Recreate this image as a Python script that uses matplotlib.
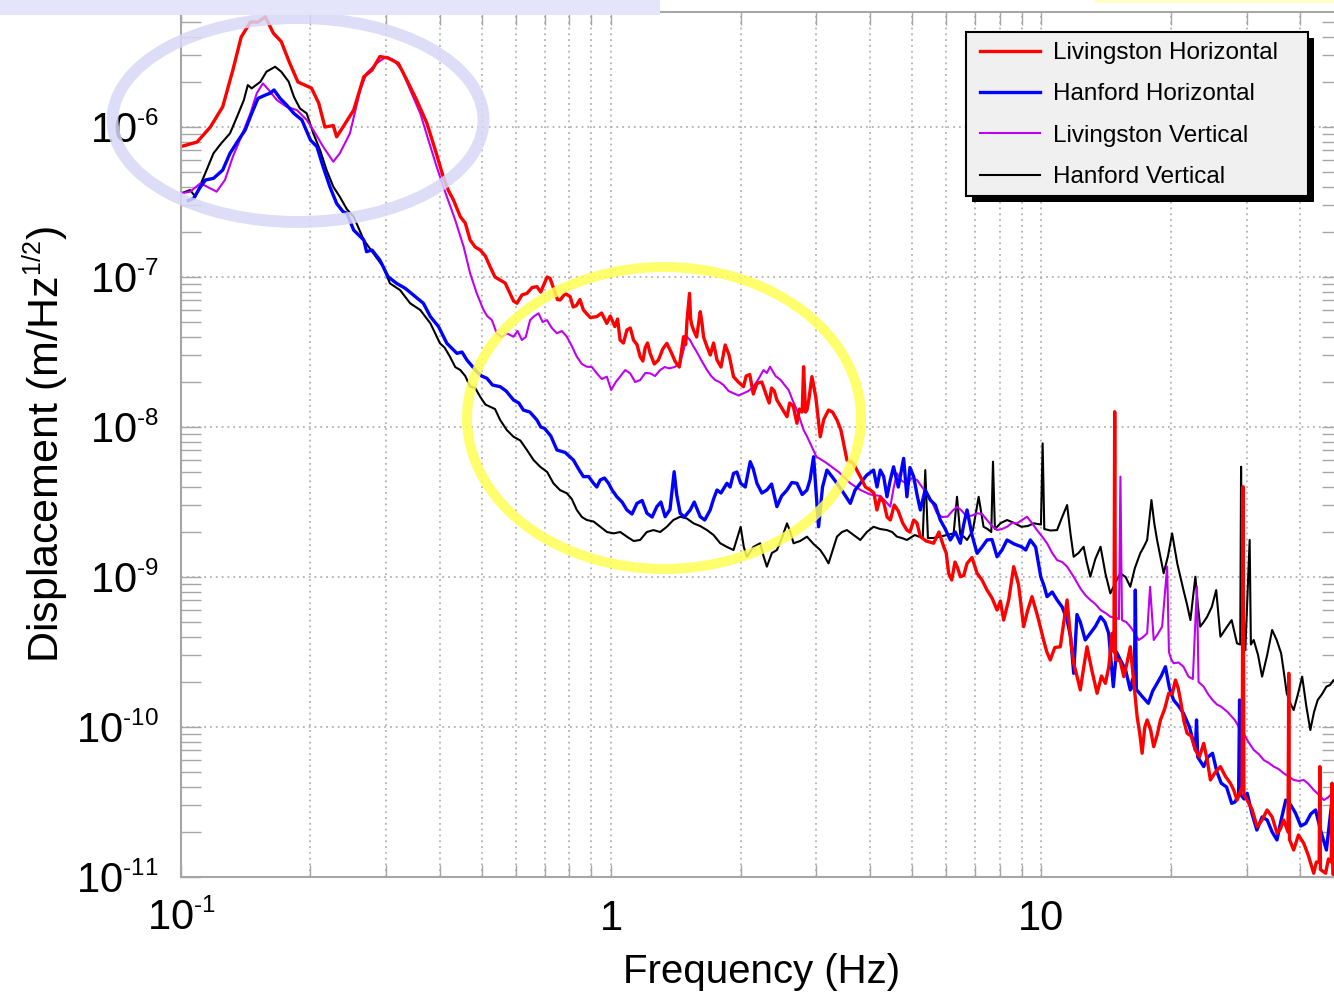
"""
Ground displacement spectra at the LIGO sites (Livingston / Hanford),
horizontal and vertical, with highlighted microseism and anthropogenic bands.
"""

import numpy as np
import matplotlib
matplotlib.use("Agg")
import matplotlib.pyplot as plt
import matplotlib._mathtext as mathtext_internals
from matplotlib.patches import Ellipse, Rectangle
from matplotlib.ticker import FixedLocator, NullFormatter, FuncFormatter

plt.rcParams["font.family"] = ["Liberation Sans", "DejaVu Sans"]
plt.rcParams["mathtext.fontset"] = "custom"
plt.rcParams["mathtext.rm"] = "Liberation Sans"
plt.rcParams["mathtext.it"] = "Liberation Sans:italic"
plt.rcParams["mathtext.bf"] = "Liberation Sans:bold"
# the original exponents are set noticeably smaller than mathtext's default
mathtext_internals.SHRINK_FACTOR = 0.58

# ── Data (frequency in Hz, displacement as log10 of m/Hz^1/2) ─────────
# main trace readings
lh_f = [0.100, 0.109, 0.117, 0.125, 0.132, 0.138, 0.145, 0.151, 0.157, 0.164,
        0.171, 0.179, 0.187, 0.201, 0.209, 0.216, 0.226, 0.230, 0.238, 0.252,
        0.266, 0.278, 0.290, 0.303, 0.320, 0.335, 0.353, 0.373, 0.390, 0.407,
        0.418, 0.430, 0.446, 0.470, 0.496, 0.523, 0.552, 0.582, 0.604, 0.637,
        0.672, 0.700, 0.721, 0.740, 0.761, 0.803, 0.830, 0.862, 0.926, 0.977,
        1.020, 1.049, 1.088, 1.127, 1.168, 1.200, 1.232, 1.288, 1.347, 1.409,
        1.473, 1.500, 1.521, 1.540, 1.554, 1.611, 1.640, 1.670, 1.762, 1.841,
        1.925, 2.031, 2.100, 2.182, 2.301, 2.360, 2.428, 2.563, 2.650, 2.703,
        2.780, 2.801, 2.830, 2.852, 2.929, 3.062, 3.201, 3.349, 3.533, 3.795,
        4.004, 4.148, 4.300, 4.456, 4.650, 4.870, 5.050, 5.233, 5.619, 5.931,
        6.090, 6.300, 6.482, 6.720, 7.090, 7.478, 7.889, 8.175, 8.625, 9.097,
        9.513, 10.12, 10.49, 11.07, 11.48, 11.89, 12.32, 12.77, 13.48, 14.09,
        14.60, 14.75, 14.81, 14.87, 15.55, 16.10, 16.70, 17.15, 17.62, 18.25,
        18.92, 19.78, 20.50, 21.06, 21.82, 22.81, 23.85, 24.72, 26.08, 27.52,
        28.52, 29.30, 29.44, 29.58, 30.08, 31.74, 33.48, 35.33, 36.60, 37.45,
        37.60, 37.75, 38.60, 40.74, 42.97, 44.25, 44.40, 44.55, 45.80, 47.20,
        47.40, 47.60, 48.50]
lh_v = [-6.13, -6.10, -6.00, -5.865, -5.62, -5.40, -5.30, -5.30, -5.265, -5.375,
        -5.43, -5.575, -5.70, -5.74, -5.84, -6.00, -5.99, -6.065, -6.00, -5.887,
        -5.665, -5.62, -5.53, -5.54, -5.575, -5.687, -5.82, -5.975, -6.153, -6.331,
        -6.42, -6.487, -6.598, -6.753, -6.82, -6.931, -7.02, -7.109, -7.175, -7.109,
        -7.064, -7.04, -7.009, -7.10, -7.153, -7.131, -7.19, -7.22, -7.264, -7.309,
        -7.33, -7.42, -7.353, -7.42, -7.531, -7.47, -7.509, -7.553, -7.442, -7.564,
        -7.398, -7.30, -7.109, -7.32, -7.353, -7.231, -7.40, -7.464, -7.553, -7.453,
        -7.664, -7.731, -7.65, -7.709, -7.798, -7.74, -7.82, -7.931, -7.86, -7.975,
        -7.90, -7.598, -7.90, -7.887, -7.664, -8.065, -7.887, -7.953, -8.22, -8.331,
        -8.42, -8.553, -8.50, -8.62, -8.56, -8.687, -8.62, -8.731, -8.775, -8.798,
        -8.975, -8.90, -8.998, -8.909, -8.975, -9.087, -9.22, -9.287, -8.931, -9.331,
        -9.131, -9.42, -9.553, -9.465, -9.153, -9.575, -9.753, -9.465, -9.775, -9.709,
        -9.375, -9.50, -7.898, -9.55, -9.664, -9.465, -9.931, -10.175, -9.953, -10.131,
        -9.953, -9.775, -9.687, -9.82, -10.042, -10.153, -10.109, -10.353, -10.264, -10.375,
        -10.487, -10.40, -8.398, -10.45, -10.487, -10.665, -10.553, -10.709, -10.62, -10.70,
        -9.642, -10.75, -10.82, -10.775, -10.975, -10.90, -10.264, -10.95, -10.975, -10.90,
        -10.375, -10.98, -11.00]
# extra readings of the noisy band texture
lh_xf = [0.458, 0.483, 0.510, 0.537, 0.567, 0.593, 0.620, 0.655, 0.686, 0.710,
         0.750, 0.782, 0.816, 0.846, 0.894, 0.950,
         0.995, 1.035, 1.068, 1.108, 1.148, 1.185, 1.215, 1.260, 1.318, 1.378,
         1.440, 1.490, 1.530, 1.580, 1.625, 1.700, 1.730, 1.800, 1.880, 1.975,
         2.060, 2.140, 2.240, 2.330, 2.395, 2.500, 2.600, 2.740, 2.880, 2.990,
         3.120, 3.270, 3.420, 3.650, 3.900, 4.080, 4.220, 4.380, 4.550, 4.760,
         4.950, 5.140, 5.400, 5.780, 6.010, 6.190, 6.390, 6.600, 6.900, 7.280,
         7.680, 8.030, 8.400, 8.850, 9.300, 9.800, 10.30, 10.75, 11.28, 11.70,
         12.10, 12.55, 13.10, 13.80, 14.35, 15.25, 15.80, 16.40, 16.95, 17.40,
         17.95, 18.60, 19.35, 20.15, 20.80, 21.45, 22.30, 23.30, 24.30, 25.40,
         26.80, 28.00, 30.90, 32.60, 34.40, 35.95, 39.60, 41.80, 43.60, 46.50]
lh_xv = [-6.64, -6.80, -6.86, -7.00, -7.04, -7.16, -7.12, -7.07, -7.10, -7.00,
         -7.15, -7.11, -7.20, -7.15, -7.27, -7.24,
         -7.26, -7.28, -7.44, -7.34, -7.45, -7.56, -7.44, -7.58, -7.48, -7.50,
         -7.60, -7.45, -7.28, -7.40, -7.30, -7.52, -7.44, -7.60, -7.52, -7.70,
         -7.66, -7.78, -7.70, -7.84, -7.76, -7.88, -7.84, -7.88, -7.82, -7.80,
         -7.95, -7.90, -8.02, -8.24, -8.40, -8.44, -8.47, -8.60, -8.52, -8.64,
         -8.70, -8.64, -8.76, -8.70, -8.84, -9.02, -8.94, -8.99, -8.87, -9.02,
         -9.14, -9.16, -9.15, -9.05, -9.22, -9.26, -9.50, -9.47, -9.30, -9.42,
         -9.66, -9.60, -9.62, -9.66, -9.60, -9.56, -9.58, -9.70, -10.05, -10.00,
         -10.02, -10.05, -9.88, -9.78, -9.74, -9.96, -10.06, -10.20, -10.22, -10.30,
         -10.33, -10.42, -10.55, -10.62, -10.60, -10.68, -10.72, -10.86, -10.90, -10.88]

hh_f = [0.104, 0.107, 0.111, 0.114, 0.119, 0.125, 0.130, 0.136, 0.141, 0.146,
        0.151, 0.157, 0.161, 0.1645, 0.170, 0.176, 0.183, 0.191, 0.200, 0.207,
        0.214, 0.222, 0.230, 0.238, 0.243, 0.252, 0.266, 0.270, 0.278, 0.290,
        0.303, 0.317, 0.332, 0.347, 0.366, 0.380, 0.397, 0.415, 0.438, 0.462,
        0.487, 0.514, 0.552, 0.593, 0.625, 0.672, 0.700, 0.748, 0.817, 0.862,
        0.910, 0.943, 0.986, 1.031, 1.088, 1.148, 1.211, 1.277, 1.335, 1.401,
        1.447, 1.527, 1.611, 1.699, 1.762, 1.858, 1.925, 2.000, 2.105, 2.182,
        2.301, 2.428, 2.563, 2.703, 2.852, 2.955, 3.035, 3.174, 3.349, 3.597,
        3.795, 4.074, 4.223, 4.377, 4.534, 4.785, 4.870, 5.050, 5.233, 5.521,
        5.823, 6.143, 6.482, 6.720, 7.090, 7.478, 7.889, 8.324, 8.985, 9.428,
        9.970, 10.31, 10.88, 11.48, 11.89, 12.32, 13.00, 13.73, 14.34, 14.70,
        15.27, 16.10, 16.45, 16.54, 16.63, 17.73, 18.58, 19.43, 20.30, 21.40,
        22.81, 22.95, 23.10, 23.85, 25.00, 26.20, 27.70, 28.75, 28.90, 29.05,
        30.10, 31.70, 33.50, 35.30, 37.00, 39.00, 41.20, 43.40, 46.00, 47.40,
        48.50]
hh_v = [-6.49, -6.475, -6.398, -6.353, -6.342, -6.287, -6.175, -6.087, -6.02, -5.909,
        -5.809, -5.787, -5.775, -5.753, -5.809, -5.853, -5.909, -5.953, -6.087, -6.131,
        -6.265, -6.40, -6.509, -6.564, -6.575, -6.687, -6.753, -6.831, -6.82, -6.887,
        -6.998, -7.042, -7.075, -7.12, -7.175, -7.264, -7.331, -7.442, -7.509, -7.553,
        -7.631, -7.675, -7.731, -7.82, -7.887, -7.953, -8.009, -8.153, -8.22, -8.331,
        -8.375, -8.353, -8.375, -8.465, -8.553, -8.509, -8.575, -8.531, -8.598, -8.298,
        -8.575, -8.553, -8.598, -8.553, -8.42, -8.375, -8.309, -8.375, -8.231, -8.375,
        -8.42, -8.531, -8.42, -8.375, -8.42, -8.198, -8.665, -8.287, -8.375, -8.509,
        -8.375, -8.287, -8.287, -8.465, -8.265, -8.209, -8.465, -8.331, -8.553, -8.487,
        -8.62, -8.753, -8.775, -8.553, -8.842, -8.753, -8.865, -8.753, -8.798, -8.753,
        -8.998, -9.131, -9.153, -9.287, -9.642, -9.30, -9.375, -9.265, -9.375, -9.731,
        -9.553, -9.753, -9.75, -9.087, -9.75, -9.842, -9.709, -9.598, -9.82, -9.909,
        -10.153, -9.953, -10.20, -10.264, -10.175, -10.375, -10.509, -10.45, -9.82, -10.45,
        -10.442, -10.687, -10.62, -10.753, -10.487, -10.575, -10.642, -10.553, -10.82, -10.487,
        -10.60]
hh_xf = [0.450, 0.500, 0.530, 0.570, 0.610, 0.647, 0.686, 0.724, 0.782, 0.840,
         0.886, 0.926, 0.965,
         1.005, 1.060, 1.118, 1.180, 1.245, 1.305, 1.370, 1.420, 1.480, 1.560,
         1.650, 1.730, 1.800, 1.890, 1.960, 2.050, 2.140, 2.240, 2.360, 2.490,
         2.630, 2.780, 2.900, 3.100, 3.260, 3.470, 3.690, 3.930, 4.150, 4.300,
         4.450, 4.650, 4.950, 5.140, 5.370, 5.670, 5.980, 6.310, 6.600, 6.900,
         7.280, 7.680, 8.100, 8.650, 9.200, 9.700, 10.15, 10.60, 11.18, 11.70,
         12.10, 12.65, 13.35, 14.05, 14.95, 15.70, 16.30, 17.20, 18.15, 19.00,
         19.85, 20.85, 22.10, 24.40, 25.60, 26.95, 28.20, 29.60, 30.90, 32.60,
         34.40, 36.10, 38.00, 40.10, 42.30, 44.70]
hh_xv = [-7.50, -7.66, -7.72, -7.76, -7.84, -7.90, -8.00, -8.06, -8.17, -8.28,
         -8.33, -8.40, -8.34,
         -8.42, -8.50, -8.58, -8.49, -8.60, -8.50, -8.55, -8.45, -8.60, -8.50,
         -8.62, -8.48, -8.44, -8.40, -8.30, -8.40, -8.28, -8.44, -8.38, -8.46,
         -8.37, -8.45, -8.35, -8.40, -8.33, -8.44, -8.42, -8.32, -8.40, -8.33,
         -8.36, -8.40, -8.27, -8.45, -8.42, -8.52, -8.68, -8.70, -8.65, -8.72,
         -8.80, -8.75, -8.82, -8.78, -8.82, -8.80, -9.06, -9.10, -9.20, -9.40,
         -9.25, -9.42, -9.33, -9.30, -9.50, -9.62, -9.68, -9.80, -9.76, -9.66,
         -9.74, -9.86, -10.00, -10.20, -10.30, -10.40, -10.50, -10.48, -10.58, -10.60,
         -10.70, -10.62, -10.52, -10.66, -10.58, -10.70]

lv_f = [0.100, 0.105, 0.111, 0.115, 0.121, 0.1265, 0.132, 0.138, 0.145, 0.150,
        0.155, 0.160, 0.167, 0.176, 0.186, 0.196, 0.203, 0.214, 0.226, 0.234,
        0.247, 0.261, 0.270, 0.285, 0.300, 0.312, 0.326, 0.341, 0.360, 0.376,
        0.393, 0.411, 0.434, 0.454, 0.470, 0.487, 0.505, 0.528, 0.542, 0.572,
        0.593, 0.620, 0.648, 0.678, 0.709, 0.748, 0.789, 0.832, 0.878, 0.926,
        0.977, 1.000, 1.049, 1.107, 1.168, 1.232, 1.300, 1.364, 1.447, 1.500,
        1.554, 1.611, 1.670, 1.746, 1.825, 1.925, 2.031, 2.142, 2.261, 2.341,
        2.479, 2.585, 2.703, 2.801, 2.903, 3.000, 3.174, 3.597, 4.000, 4.456,
        4.617, 4.870, 5.140, 5.423, 5.720, 6.050, 6.368, 6.720, 7.090, 7.478,
        7.889, 8.324, 8.780, 9.260, 9.770, 10.31, 10.88, 11.48, 12.32, 13.00,
        13.73, 14.47, 15.15, 15.27, 15.40, 16.10, 16.84, 17.62, 17.90, 18.25,
        19.09, 19.61, 19.80, 20.30, 21.40, 21.98, 23.00, 23.20, 23.85, 25.00,
        26.20, 28.16, 29.50, 31.17, 32.88, 34.70, 36.60, 38.60, 40.74, 42.97,
        45.36, 47.40, 48.50]
lv_v = [-6.442, -6.431, -6.375, -6.398, -6.431, -6.353, -6.198, -6.065, -5.909, -5.775,
        -5.709, -5.753, -5.82, -5.865, -5.887, -5.953, -6.02, -6.131, -6.231, -6.175,
        -6.042, -5.753, -5.642, -5.575, -5.531, -5.553, -5.62, -5.753, -5.909, -6.087,
        -6.265, -6.431, -6.62, -6.798, -6.975, -7.109, -7.22, -7.287, -7.375, -7.375,
        -7.398, -7.42, -7.287, -7.242, -7.287, -7.375, -7.398, -7.531, -7.598, -7.642,
        -7.664, -7.753, -7.664, -7.642, -7.687, -7.642, -7.62, -7.609, -7.575, -7.398,
        -7.464, -7.542, -7.62, -7.687, -7.72, -7.775, -7.775, -7.731, -7.62, -7.598,
        -7.687, -7.753, -7.887, -8.02, -8.109, -8.198, -8.242, -8.375, -8.45, -8.531,
        -8.309, -8.375, -8.353, -8.442, -8.575, -8.598, -8.531, -8.598, -8.575, -8.62,
        -8.687, -8.665, -8.642, -8.598, -8.687, -8.775, -8.887, -8.931, -9.075, -9.153,
        -9.22, -9.265, -9.28, -8.331, -9.287, -9.331, -9.42, -9.375, -9.065, -9.42,
        -9.331, -8.931, -9.50, -9.575, -9.598, -9.664, -9.065, -9.70, -9.731, -9.82,
        -9.865, -9.953, -10.042, -10.153, -10.22, -10.264, -10.309, -10.353, -10.353, -10.42,
        -10.487, -10.442, -10.50]
lv_xf = [0.515, 0.557, 0.606, 0.633, 0.663, 0.693, 0.728, 0.768, 0.810, 0.855,
         0.902, 0.951,
         1.025, 1.078, 1.137, 1.200, 1.265, 1.332, 1.405, 1.475, 1.525, 1.582,
         1.640, 1.708, 1.785, 1.875, 1.978, 2.085, 2.200, 2.300, 2.410, 2.530,
         2.640, 2.750, 2.850, 2.950, 3.090, 3.380, 3.800, 4.230, 4.540, 4.740,
         5.000, 5.280, 5.570, 5.880, 6.210, 6.540, 6.900, 7.280, 7.680, 8.100,
         8.550, 9.020, 9.510, 10.04, 10.60, 11.18, 11.90, 12.65, 13.35, 14.10,
         14.85, 15.75, 16.45, 17.25, 18.65, 20.05, 20.85, 22.50, 24.40, 25.60,
         27.10, 28.80, 30.30, 32.00, 33.80, 35.60, 37.60, 39.70, 41.80, 44.10,
         46.40]
lv_xv = [-7.26, -7.40, -7.36, -7.40, -7.26, -7.30, -7.34, -7.36, -7.46, -7.58,
         -7.60, -7.68,
         -7.70, -7.62, -7.70, -7.64, -7.66, -7.60, -7.60, -7.48, -7.42, -7.50,
         -7.58, -7.66, -7.70, -7.76, -7.79, -7.76, -7.68, -7.64, -7.66, -7.72,
         -7.82, -7.95, -8.06, -8.15, -8.22, -8.30, -8.42, -8.46, -8.40, -8.36,
         -8.34, -8.40, -8.50, -8.60, -8.56, -8.56, -8.59, -8.58, -8.66, -8.68,
         -8.64, -8.62, -8.64, -8.73, -8.84, -8.90, -9.00, -9.12, -9.18, -9.24,
         -9.27, -9.30, -9.37, -9.40, -9.38, -9.55, -9.57, -9.68, -9.78, -9.85,
         -9.90, -10.00, -10.10, -10.18, -10.24, -10.28, -10.33, -10.36, -10.38, -10.45,
         -10.47]

hv_f = [0.100, 0.105, 0.108, 0.113, 0.119, 0.124, 0.130, 0.135, 0.140, 0.143,
        0.146, 0.153, 0.158, 0.1655, 0.171, 0.178, 0.183, 0.189, 0.196, 0.203,
        0.2105, 0.218, 0.226, 0.234, 0.243, 0.252, 0.266, 0.280, 0.295, 0.306,
        0.323, 0.341, 0.360, 0.380, 0.400, 0.422, 0.446, 0.470, 0.496, 0.523,
        0.552, 0.593, 0.637, 0.684, 0.734, 0.789, 0.832, 0.878, 0.943, 1.013,
        1.088, 1.168, 1.254, 1.347, 1.447, 1.554, 1.670, 1.793, 1.925, 2.000,
        2.068, 2.220, 2.301, 2.428, 2.563, 2.655, 2.852, 3.062, 3.201, 3.349,
        3.533, 3.795, 4.074, 4.377, 4.617, 4.870, 5.300, 5.373, 5.450, 5.823,
        6.254, 6.368, 6.480, 6.720, 7.150, 7.340, 7.650, 7.720, 7.800, 8.324,
        8.985, 9.600, 9.980, 10.07, 10.16, 10.88, 11.48, 11.89, 12.54, 13.00,
        13.73, 14.47, 15.27, 16.10, 16.98, 17.62, 18.03, 18.58, 19.25, 20.14,
        20.70, 21.40, 22.21, 22.81, 23.40, 24.29, 25.50, 26.08, 27.70, 28.50,
        29.00, 29.13, 29.30, 29.80, 30.50, 30.70, 31.17, 32.60, 34.40, 36.10,
        37.20, 38.60, 40.40, 42.20, 43.90, 46.00, 47.80, 48.50]
hv_v = [-6.442, -6.42, -6.465, -6.331, -6.175, -6.109, -6.042, -5.931, -5.82, -5.72,
        -5.742, -5.698, -5.631, -5.598, -5.631, -5.698, -5.798, -5.876, -5.909, -6.042,
        -6.153, -6.287, -6.398, -6.465, -6.548, -6.598, -6.753, -6.842, -6.931, -7.042,
        -7.087, -7.175, -7.22, -7.309, -7.442, -7.531, -7.62, -7.731, -7.798, -7.865,
        -7.953, -8.065, -8.153, -8.265, -8.375, -8.442, -8.553, -8.62, -8.665, -8.709,
        -8.731, -8.753, -8.687, -8.665, -8.598, -8.642, -8.687, -8.775, -8.82, -8.665,
        -8.865, -8.775, -8.931, -8.82, -8.642, -8.775, -8.731, -8.82, -8.909, -8.731,
        -8.687, -8.753, -8.665, -8.687, -8.731, -8.753, -8.74, -8.287, -8.74, -8.731,
        -8.709, -8.465, -8.72, -8.753, -8.465, -8.665, -8.70, -8.231, -8.68, -8.62,
        -8.665, -8.642, -8.65, -8.109, -8.68, -8.687, -8.52, -8.865, -8.798, -8.998,
        -8.798, -9.109, -8.975, -9.065, -8.842, -8.753, -8.487, -8.753, -8.975, -8.709,
        -8.909, -9.087, -9.287, -8.998, -9.331, -9.265, -9.087, -9.398, -9.287, -9.442,
        -9.45, -8.265, -9.45, -9.487, -8.753, -9.45, -9.42, -9.664, -9.353, -9.509,
        -9.775, -9.887, -9.664, -10.02, -9.82, -9.731, -9.687, -9.70]
hv_xf = [0.410, 0.434, 0.458, 0.483, 0.510, 0.537, 0.572, 0.615, 0.660, 0.710,
         0.760, 0.810, 0.855, 0.910, 0.978,
         1.050, 1.128, 1.210, 1.300, 1.395, 1.500, 1.610, 1.730, 1.860, 2.034,
         2.140, 2.260, 2.364, 2.495, 2.610, 2.750, 2.955, 3.130, 3.275, 3.440,
         3.660, 3.930, 4.220, 4.500, 4.740, 5.080, 5.600, 6.040, 6.600, 6.930,
         7.500, 8.050, 8.650, 9.300, 10.50, 11.18, 11.70, 12.20, 12.75, 13.35,
         14.10, 14.85, 15.70, 16.50, 17.30, 18.30, 18.90, 19.70, 21.05, 21.80,
         23.10, 23.85, 24.90, 26.90, 31.90, 33.50, 35.25, 36.65, 37.90, 39.50,
         41.30, 43.05, 44.95, 46.90]
hv_xv = [-7.47, -7.60, -7.66, -7.74, -7.85, -7.88, -8.02, -8.09, -8.22, -8.30,
         -8.42, -8.48, -8.60, -8.63, -8.70,
         -8.70, -8.76, -8.70, -8.70, -8.62, -8.61, -8.66, -8.72, -8.80, -8.80,
         -8.80, -8.86, -8.84, -8.74, -8.70, -8.76, -8.78, -8.86, -8.82, -8.70,
         -8.72, -8.70, -8.68, -8.70, -8.74, -8.72, -8.74, -8.72, -8.73, -8.69,
         -8.68, -8.64, -8.64, -8.66, -8.69, -8.60, -8.72, -8.84, -8.90, -8.88,
         -8.98, -9.04, -9.00, -8.94, -8.80, -8.64, -8.86, -8.86, -9.00, -9.18,
         -9.18, -9.30, -9.20, -9.34, -9.52, -9.52, -9.42, -9.64, -9.84, -9.78,
         -9.86, -9.90, -9.78, -9.72]

x_major = [0.1, 1, 10]
x_major_labels = ["$\\mathregular{10^{\u20101}}$", "1", "10"]
y_decades = [-11, -10, -9, -8, -7, -6]

series = [
    # (freqs, log values, extra freqs, extra log values, colour, width, label)
    (lh_f, lh_v, lh_xf, lh_xv, "#ff0000", 2.4, "Livingston Horizontal"),
    (hh_f, hh_v, hh_xf, hh_xv, "#0000ff", 2.4, "Hanford Horizontal"),
    (lv_f, lv_v, lv_xf, lv_xv, "#c000f0", 1.5, "Livingston Vertical"),
    (hv_f, hv_v, hv_xf, hv_xv, "#000000", 1.5, "Hanford Vertical"),
]

# ── Figure ───────────────────────────────────────────────────────────
W, H = 1334, 996
fig = plt.figure(figsize=(W / 100, H / 100), dpi=100)
ax = fig.add_axes([181 / W, (H - 877) / H, 1161 / W, 865 / H])
ax.set_xscale("log")
ax.set_yscale("log")

GRID = "#a6a6a6"
handles = []
for z, (f, v, xf, xv, color, lw, label) in enumerate(series):
    freq = np.concatenate([f, xf])
    disp = 10 ** np.concatenate([v, xv])
    order = np.argsort(freq, kind="stable")
    line, = ax.plot(freq[order], disp[order], color=color, lw=lw,
                    zorder=2.3 - 0.1 * z, label=label)
    handles.append(line)

ax.set_xlim(0.1, 50)
ax.set_ylim(1e-11, 10 ** -5.233)

# ticks
ax.xaxis.set_major_locator(FixedLocator(x_major))
ax.xaxis.set_minor_locator(FixedLocator([k * 10.0 ** e for e in (-1, 0, 1)
                                         for k in range(2, 10)]))
ax.xaxis.set_minor_formatter(NullFormatter())
ax.set_xticklabels(x_major_labels)
ax.yaxis.set_major_locator(FixedLocator([10.0 ** d for d in y_decades]))
ax.yaxis.set_minor_locator(FixedLocator([k * 10.0 ** d for d in y_decades
                                         for k in range(2, 10)]))
ax.yaxis.set_minor_formatter(NullFormatter())
ax.yaxis.set_major_formatter(FuncFormatter(
    lambda val, pos: "$\\mathregular{10^{\u2010%d}}$"
    % abs(int(round(np.log10(val))))))

ax.tick_params(axis="x", which="both", direction="in", length=9, width=1,
               color=GRID, top=True, bottom=True, labelsize=30, pad=38)
ax.tick_params(axis="y", which="both", direction="in", length=14.5, width=1,
               color=GRID, left=True, right=True, labelsize=30, pad=16)
for t in ax.xaxis.get_major_ticks():
    t.label1.set_verticalalignment("baseline")

ax.grid(True, which="major", axis="both", linestyle=(0, (1.2, 2.6)),
        color=GRID, lw=1.1)
ax.grid(True, which="minor", axis="x", linestyle=(0, (1.2, 2.6)),
        color=GRID, lw=1.1)
for s in ax.spines.values():
    s.set_color(GRID)
    s.set_linewidth(1.5)

ax.set_xlabel("Frequency (Hz)", fontsize=29)
ax.xaxis.set_label_coords(0.5, -0.088)
ax.set_ylabel(r"Displacement (m/Hz$^{\mathregular{1/2}}$)", fontsize=31)
ax.yaxis.set_label_coords(-0.095, 0.5)

# legend: fixed grey box with a hard black drop shadow
ax.add_artist(Rectangle((972 / W, 1 - 202 / H), 342 / W, 164 / H,
                        transform=fig.transFigure, facecolor="black",
                        edgecolor="none", zorder=5.7, clip_on=False))
ax.add_artist(Rectangle((966 / W, 1 - 196 / H), 342 / W, 164 / H,
                        transform=fig.transFigure, facecolor="#f0f0f0",
                        edgecolor="black", lw=1.5, zorder=5.8, clip_on=False))
leg = ax.legend(handles=handles, loc="upper left",
                bbox_to_anchor=(980 / W, 1 - 42 / H),
                bbox_transform=fig.transFigure, fontsize=17.5,
                frameon=False, borderpad=0, labelspacing=0.8,
                handlelength=2.45, handletextpad=0.55, borderaxespad=0)
leg.set_zorder(6)

# highlight ellipses and slide remnants
fig.add_artist(Ellipse((298 / W, 1 - 120 / H), 371 / W, 204 / H,
                       transform=fig.transFigure, fill=False,
                       edgecolor="#d8d8f6", lw=8.6, alpha=0.85, zorder=5))
fig.add_artist(Ellipse((664 / W, 1 - 418 / H), 394 / W, 302 / H,
                       transform=fig.transFigure, fill=False,
                       edgecolor="#ffff55", lw=7.2, alpha=0.85, zorder=5))
fig.add_artist(Rectangle((0, 1 - 15 / H), 660 / W, 15 / H,
                         transform=fig.transFigure, facecolor="#e4e4fa",
                         edgecolor="none", zorder=7))
fig.add_artist(Rectangle((1095 / W, 1 - 3 / H), 239 / W, 3 / H,
                         transform=fig.transFigure, facecolor="#ffffc8",
                         edgecolor="none", zorder=7))

fig.savefig("out.png", dpi=100, facecolor="white")
plt.close()
